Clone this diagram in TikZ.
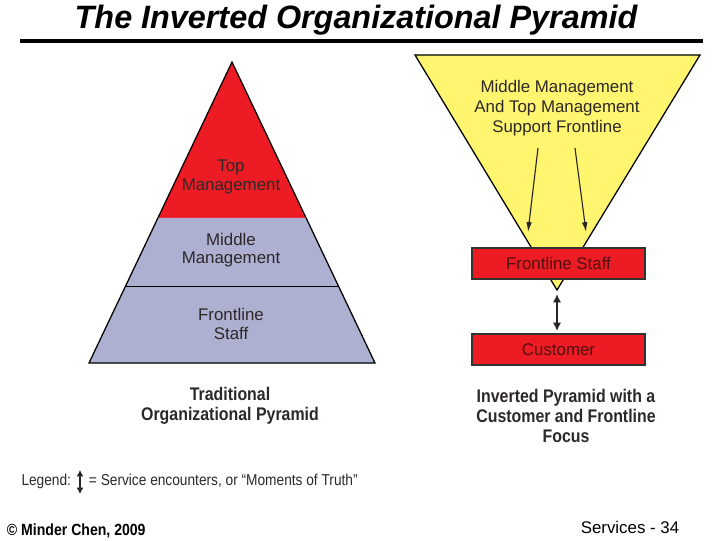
\documentclass[tikz,border=0pt]{standalone}
\usepackage{fontspec}
\setmainfont{Liberation Sans}
\newfontfamily\narrowfont[FakeStretch=0.87]{Liberation Sans}
\usetikzlibrary{arrows.meta,calc}
\definecolor{pyrred}{RGB}{237,28,36}
\definecolor{pyrlilac}{RGB}{174,176,210}
\definecolor{pyryellow}{RGB}{255,245,110}
\definecolor{labeltext}{RGB}{45,40,40}
\definecolor{redtext}{RGB}{80,15,15}
\tikzset{
  pyrlabel/.style={align=center,text=labeltext,font=\fontsize{12}{13}\selectfont},
  boxlabel/.style={text=redtext,font=\fontsize{12}{13}\selectfont},
  caption/.style={align=center,text=labeltext,font=\narrowfont\bfseries\fontsize{13}{14.5}\selectfont},
  legendtxt/.style={text=labeltext,font=\narrowfont\fontsize{11.2}{13}\selectfont},
  redbox/.style={draw=black!80,fill=pyrred,line width=0.8},
  support/.style={-{Latex[length=7pt,width=4pt]},line width=0.8,draw=black!85},
  encounter/.style={{Latex[length=6pt,width=6pt]}-{Latex[length=6pt,width=6pt]},line width=2,draw=black!85}
}
\begin{document}
\begin{tikzpicture}[x=0.025cm,y=-0.025cm]
\useasboundingbox (0,0) rectangle (720,540);
% title
\node (title) at (356,20) {\fontsize{23}{26}\selectfont\bfseries\itshape The Inverted Organizational Pyramid};
\draw [line width=3.2] (20,41) -- (703,41);
% traditional pyramid
\coordinate (apex) at (232,62);
\coordinate (bl) at (89,363);
\coordinate (br) at (375,363);
\fill [pyrred] (apex) -- ($(apex)!0.518!(bl)$) -- ($(apex)!0.518!(br)$) -- cycle;
\fill [pyrlilac] ($(apex)!0.518!(bl)$) -- (bl) -- (br) -- ($(apex)!0.518!(br)$) -- cycle;
\draw [line width=0.9] (apex) -- (bl) -- (br) -- cycle;
\draw [line width=0.9] ($(apex)!0.747!(bl)$) -- ($(apex)!0.747!(br)$);
\node [pyrlabel] (top) at (231,177) {Top\\Management};
\node [pyrlabel] (middle) at (231,250) {Middle\\Management};
\node [pyrlabel] (front) at (231,324) {Frontline\\Staff};
% inverted pyramid
\coordinate (tl) at (415,55);
\coordinate (tr) at (700,55);
\coordinate (tip) at (557,290);
\draw [fill=pyryellow,line width=0.9] (tl) -- (tr) -- (tip) -- cycle;
\node [pyrlabel,font=\fontsize{12}{14}\selectfont] (support) at (557,108) {Middle Management\\And Top Management\\Support Frontline};
\coordinate (s1) at (538,148);
\coordinate (s2) at (575,148);
\node [redbox,minimum width=173*0.025cm,minimum height=31*0.025cm,boxlabel] (fstaff) at (558.5,263.5) {Frontline Staff};
\node [redbox,minimum width=173*0.025cm,minimum height=31*0.025cm,boxlabel] (cust) at (558.5,349.5) {Customer};
\draw [support] (s1) -- (528,232);
\draw [support] (s2) -- (586,232);
\draw [encounter] (557,294) -- (557,331);
% captions
\node [caption] (tradcap) at (230,406) {Traditional\\Organizational Pyramid};
\node [caption] (invcap) at (566,416) {Inverted Pyramid with a\\Customer and Frontline\\Focus};
% legend
\node [anchor=east,legendtxt] (legend) at (76,481) {Legend:};
\draw [{Latex[length=4.5pt,width=5pt]}-{Latex[length=4.5pt,width=5pt]},line width=1.1,draw=black!85] (80,470) -- (80,494);
\node [anchor=west,legendtxt] (legendtext) at (84,481) {= Service encounters, or “Moments of Truth”};
% footer
\node [anchor=west,font=\narrowfont\bfseries\fontsize{11.5}{13}\selectfont] (copy) at (2,531) {© Minder Chen, 2009};
\node [font=\fontsize{12}{14}\selectfont] (page) at (630,527) {Services - 34};
\end{tikzpicture}
\end{document}
